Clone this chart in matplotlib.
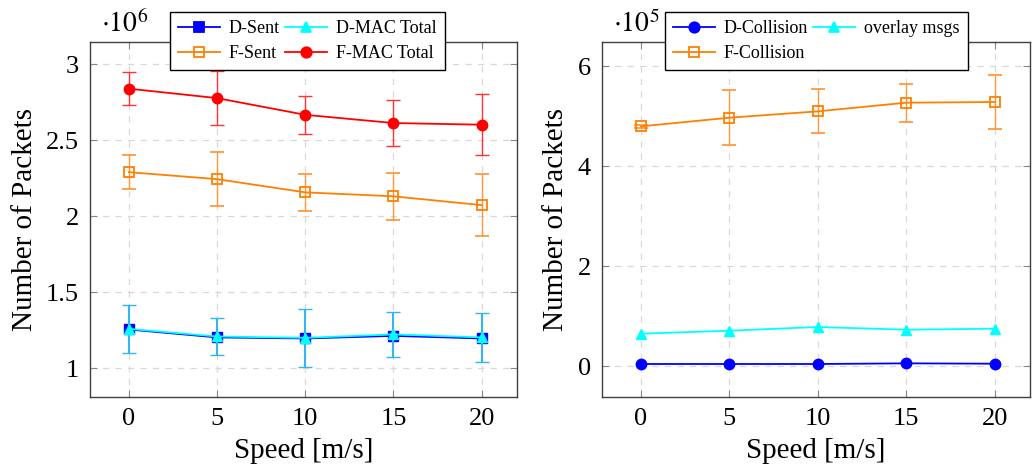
import matplotlib
matplotlib.use('Agg')
import matplotlib.pyplot as plt
from matplotlib.lines import Line2D

plt.rcParams['font.family'] = 'serif'
plt.rcParams['font.serif'] = ['Liberation Serif', 'DejaVu Serif']
plt.rcParams['mathtext.fontset'] = 'stix'

# velocidades
speed = [0, 5, 10, 15, 20]

# grafico da esquerda (x 10^6)
d_sent = [1.254, 1.202, 1.195, 1.212, 1.195]
d_mac = [1.258, 1.208, 1.199, 1.222, 1.202]
d_mac_err = [0.157, 0.12, 0.19, 0.149, 0.16]
f_sent = [2.289, 2.243, 2.156, 2.130, 2.072]
f_sent_err = [0.11, 0.177, 0.123, 0.153, 0.206]
f_mac = [2.838, 2.776, 2.666, 2.612, 2.601]
f_mac_err = [0.11, 0.18, 0.123, 0.153, 0.2]

# grafico da direita (x 10^5)
d_coll = [0.047, 0.047, 0.047, 0.06, 0.053]
overlay = [0.653, 0.713, 0.787, 0.733, 0.753]
f_coll = [4.8, 4.973, 5.1, 5.273, 5.287]
f_coll_err = [0.03, 0.547, 0.44, 0.377, 0.543]

fig = plt.figure(figsize=(10.32, 4.74), dpi=100)
ax1 = fig.add_axes([90/1032, 1-397/474, 427/1032, 355/474])
ax2 = fig.add_axes([602/1032, 1-397/474, 428/1032, 355/474])

BLUE = (0, 0, 1)
CYAN = (0, 1, 1)
ORANGE = (1, 0.5, 0)
RED = (1, 0, 0)
lw = 1.3
ms = 7.5

def style(ax):
    ax.grid(True, ls=(0, (5, 5)), color='#d8d8d8', lw=0.9)
    ax.set_axisbelow(True)
    ax.tick_params(direction='in', top=True, right=True, labelsize=19,
                   color='#888888', length=5, pad=8)
    for s in ax.spines.values():
        s.set_color('#404040')
        s.set_linewidth(1.0)
    ax.set_xlim(-2.2, 22)
    ax.set_xticks(speed)
    ax.set_xlabel('Speed [m/s]', fontsize=21, labelpad=6)
    ax.set_ylabel('Number of Packets', fontsize=21, labelpad=6)

def handle(color, marker, mfc=None):
    return Line2D([], [], color=color, lw=lw, marker=marker, ms=ms,
                  mfc=mfc if mfc else color, mew=1.3)

leg_kw = dict(ncol=2, loc='upper left', fontsize=13, frameon=True, fancybox=False,
              edgecolor='black', framealpha=1, borderpad=0.45, handlelength=2.3,
              columnspacing=0.3, handletextpad=0.5, labelspacing=0.45,
              borderaxespad=0)

# esquerda
ax1.errorbar(speed, f_mac, yerr=f_mac_err, color=RED, ecolor=(1, 0.2, 0.2), lw=lw,
             elinewidth=1.0, capsize=5, marker='o', ms=ms, zorder=3)
ax1.errorbar(speed, f_sent, yerr=f_sent_err, color=ORANGE, ecolor=(1, 0.6, 0.25), lw=lw,
             elinewidth=1.0, capsize=5, marker='s', ms=ms, mfc='none', mew=1.3, zorder=3)
ax1.errorbar(speed, d_mac, yerr=d_mac_err, color=CYAN, ecolor='#33b5f5', lw=lw,
             elinewidth=1.5, capsize=5, marker='^', ms=ms, zorder=3)
ax1.plot(speed, d_sent, color=BLUE, lw=lw, marker='s', ms=ms, zorder=2.9)
ax1.set_ylim(0.81, 3.145)
ax1.set_yticks([1, 1.5, 2, 2.5, 3])
ax1.set_yticklabels(['1', '1.5', '2', '2.5', '3'])
style(ax1)
ax1.text(0.025, 1.01, r'$\cdot 10^{6}$', transform=ax1.transAxes, fontsize=20,
         ha='left', va='bottom')
lg = ax1.legend([handle(BLUE, 's'), handle(ORANGE, 's', 'none'),
                 handle(CYAN, '^'), handle(RED, 'o')],
                ['D-Sent', 'F-Sent', 'D-MAC Total', 'F-MAC Total'],
                bbox_to_anchor=(80/427, 1.085), **leg_kw)
lg.set_zorder(10)

# direita
ax2.errorbar(speed, f_coll, yerr=f_coll_err, color=ORANGE, ecolor=(1, 0.6, 0.25), lw=lw,
             elinewidth=1.0, capsize=5, marker='s', ms=ms, mfc='none', mew=1.3, zorder=3)
ax2.plot(speed, overlay, color=CYAN, lw=lw, marker='^', ms=ms, zorder=3)
ax2.plot(speed, d_coll, color=BLUE, lw=lw, marker='o', ms=ms, zorder=3)
ax2.set_ylim(-0.613, 6.487)
ax2.set_yticks([0, 2, 4, 6])
style(ax2)
ax2.text(0.025, 1.01, r'$\cdot 10^{5}$', transform=ax2.transAxes, fontsize=20,
         ha='left', va='bottom')
lg = ax2.legend([handle(BLUE, 'o'), handle(ORANGE, 's', 'none'), handle(CYAN, '^')],
                ['D-Collision', 'F-Collision', 'overlay msgs'],
                bbox_to_anchor=(63/428, 1.085), **leg_kw)
lg.set_zorder(10)

fig.savefig('out.png', dpi=100)
